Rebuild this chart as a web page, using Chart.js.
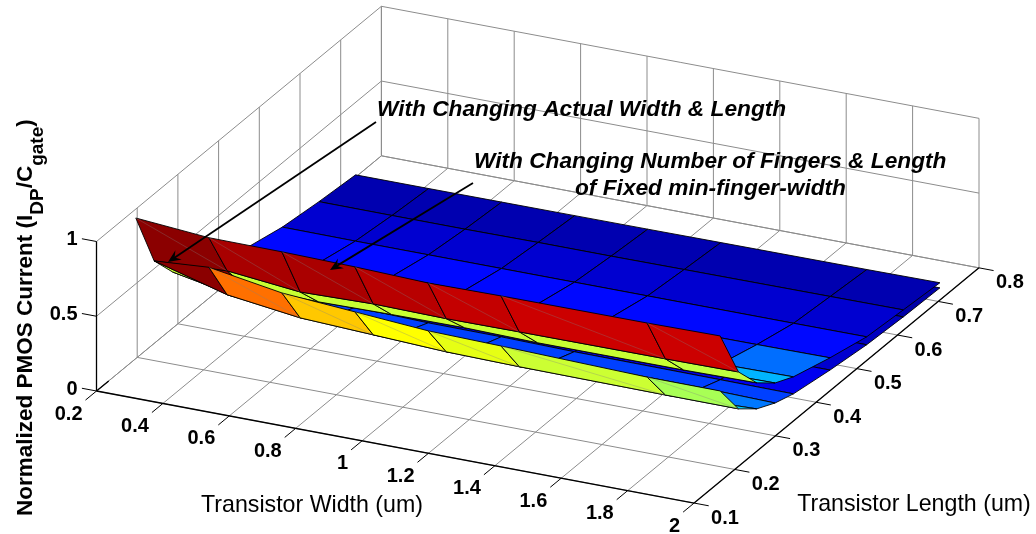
<!DOCTYPE html>
<html>
<head>
<meta charset="utf-8">
<style>html,body{margin:0;padding:0;background:#fff}canvas{display:block}</style>
<script src="https://cdn.jsdelivr.net/npm/chart.js@4"></script>
</head>
<body>
<canvas id="c" width="1036" height="534"></canvas>
<script>
// ---------- data ----------
const widthTicks = [0.2,0.4,0.6,0.8,1,1.2,1.4,1.6,1.8,2];
const widthTickLabels = ['0.2','0.4','0.6','0.8','1','1.2','1.4','1.6','1.8','2'];
const lengthTicks = [0.1,0.2,0.3,0.4,0.5,0.6,0.7,0.8];
const lengthTickLabels = ['0.1','0.2','0.3','0.4','0.5','0.6','0.7','0.8'];
const currentTicks = [0,0.5,1];
const currentTickLabels = ['0','0.5','1'];

const gridWidths = [0.24,0.46,0.68,0.90,1.12,1.34,1.78,2.0];
const gridLengths = [0.164,0.209,0.254,0.299,0.344,0.434,0.524,0.614,0.704];

// With changing actual width & length
const actualCurrent = [
 [1.03,.99,.987,.978,.962,.967,.969,.974],
 [.642,.667,.617,.629,.622,.625,.628,.632],
 [.49,.462,.45,.457,.46,.451,.452,.458],
 [.40,.375,.36,.35,.345,.345,.35,.356],
 [.33,.31,.30,.295,.29,.29,.29,.296],
 [.22,.215,.215,.215,.215,.215,.218,.221],
 [.16,.158,.158,.158,.158,.158,.158,.159],
 [.128,.127,.127,.13,.13,.132,.135,.137],
 [.105,.105,.106,.107,.108,.11,.113,.116]
];
// With changing number of fingers & length
const fingerCurrent = [
 [null,.792,.712,.677,.642,.632,.607,.606],
 [.642,.507,.444,.422,.40,.392,.386,.385],
 [.467,.372,.322,.297,.282,.272,.267,.284],
 [.322,.292,.262,.252,.245,.237,.232,.222],
 [.252,.227,.212,.199,.197,.189,.185,.182],
 [.162,.157,.152,.147,.142,.142,.139,.139],
 [.117,.112,.11,.108,.107,.106,.106,.106],
 [.092,.092,.092,.092,.09,.09,.09,.09],
 [.082,.082,.082,.082,.082,.082,.082,.082]
];

// facet colours, one per cell
const actualColors = [
 ['#8b0000','#a80000','#aa0000','#b80000','#c40000','#cc0000','#cc0000'],
 ['#8b0000','#c8ff33','#c8ff33','#c8ff33','#c8ff33','#c8ff33','#bfff40'],
 ['#0000d8','#0000d8','#0000d8','#0000d8','#0000d8','#0000d8','#00e0ff'],
 ['#0010ff','#0010ff','#0010ff','#0010ff','#0010ff','#0010ff','#00b4ff'],
 ['#0018ff','#0018ff','#0018ff','#0018ff','#0018ff','#0028ff','#006eff'],
 ['#0008ff','#0008ff','#0008ff','#0008ff','#0008ff','#0008ff','#0008ff'],
 ['#0000d0','#0000d0','#0000d0','#0000d0','#0000d0','#0000d0','#0000d0'],
 ['#0000b0','#0000b0','#0000b0','#0000b0','#0000b0','#0000b0','#0000b0']
];
const fingerColors = [
 ['#8b0000','#ff7000','#ffc800','#ffff00','#e6ff14','#ccff33','#a8ff55'],
 ['#c8ff33','#c8ff33','#c8ff33','#c8ff33','#c8ff33','#c8ff33','#00d0ff'],
 ['#0040ff','#0040ff','#0040ff','#0040ff','#0040ff','#0040ff','#0078ff'],
 ['#0040ff','#0040ff','#0040ff','#0040ff','#0040ff','#0040ff','#0040ff'],
 ['#0000e0','#0000e0','#0000e0','#0000e0','#0000e0','#0000e0','#0000f0'],
 ['#0000d0','#0000d0','#0000d0','#0000d0','#0000d0','#0000d0','#0000d0'],
 ['#0000c0','#0000c0','#0000c0','#0000c0','#0000c0','#0000c0','#0000c0'],
 ['#0000a8','#0000a8','#0000a8','#0000a8','#0000a8','#0000a8','#0000a8']
];

// ---------- orthographic view of the 3-D axes ----------
const view = {x0:96.5,y0:391,xW:66.4,yW:12.45,xL:40.7,yL:-33.6,yZ:-149.5};
function project(w,l,z){
  const u=(w-0.2)/0.2, v=(l-0.1)/0.1;
  return {x:view.x0+view.xW*u+view.xL*v, y:view.y0+view.yW*u+view.yL*v+view.yZ*z};
}
const GRID='#8c8c8c', AXIS='#000000';
const datasets=[];
function seg(a,b,color,width){
  datasets.push({data:[project(...a),project(...b)],borderColor:color,borderWidth:width,showLine:true,pointRadius:0,fill:false,tension:0,clip:false});
}
const wMin=0.2,wMax=2,lMin=0.1,lMax=0.8,zMin=0,zMax=1;
// floor
widthTicks.forEach(w=>seg([w,lMin,zMin],[w,lMax,zMin],GRID,1));
lengthTicks.forEach(l=>seg([wMin,l,zMin],[wMax,l,zMin],GRID,1));
// back wall and side wall
widthTicks.forEach(w=>seg([w,lMax,zMin],[w,lMax,zMax],GRID,1));
lengthTicks.forEach(l=>seg([wMin,l,zMin],[wMin,l,zMax],GRID,1));
currentTicks.forEach(z=>{seg([wMin,lMin,z],[wMin,lMax,z],GRID,1);seg([wMin,lMax,z],[wMax,lMax,z],GRID,1);});
// axes and ticks
seg([wMin,lMin,zMin],[wMax,lMin,zMin],AXIS,1.3);
seg([wMax,lMin,zMin],[wMax,lMax,zMin],AXIS,1.3);
seg([wMin,lMin,zMin],[wMin,lMin,zMax],AXIS,1.3);
seg([wMin,lMin,zMin],[wMin,lMin+0.03,zMin],AXIS,1.3);
widthTicks.forEach(w=>seg([w,lMin-0.027,zMin],[w,lMin,zMin],AXIS,1));
lengthTicks.forEach(l=>seg([wMax,l,zMin],[wMax+0.044,l,zMin],AXIS,1));
currentTicks.forEach(z=>seg([wMin-0.044,lMin,z],[wMin,lMin,z],AXIS,1));

function facet(surface,colors,r,c){
  const pts=[[r,c],[r,c+1],[r+1,c+1],[r+1,c]]
    .filter(([i,j])=>surface[i][j]!==null)
    .map(([i,j])=>project(gridWidths[j],gridLengths[i],surface[i][j]));
  pts.push(pts[0]);
  datasets.push({data:pts,borderColor:'#000',borderWidth:0.9,backgroundColor:colors[r][c],fill:'shape',showLine:true,pointRadius:0,tension:0,clip:false});
  if(r===0 && surface[r][c]!==null){
    datasets.push({data:[project(gridWidths[c],gridLengths[r],surface[r][c]),project(gridWidths[c+1],gridLengths[r+1],surface[r+1][c+1])],
      borderColor:'rgba(130,130,130,0.55)',borderWidth:0.6,showLine:true,pointRadius:0,fill:false,tension:0,clip:false});
  }
}
const nc=gridWidths.length-1;
function rows(surface,colors,from,to){
  for(let r=from;r>=to;r--)for(let c=0;c<nc;c++)facet(surface,colors,r,c);
}
rows(fingerCurrent,fingerColors,7,3);
rows(actualCurrent,actualColors,7,3);
rows(actualCurrent,actualColors,2,0);
rows(fingerCurrent,fingerColors,2,0);
datasets.reverse(); // Chart.js paints the first dataset last

// ---------- annotations ----------
const arrowStarts=[[376,122],[473,183]];
const arrowTips=[[168,262],[330,270]];
const notes=[
 {t:'With Changing Actual Width & Length',x:377,y:116},
 {t:'With Changing Number of Fingers & Length',x:474,y:168},
 {t:'of Fixed min-finger-width',x:575,y:195}
];

const textPlugin={id:'text3d',afterDatasetsDraw(chart){
  const ctx=chart.ctx,sx=chart.scales.x,sy=chart.scales.y;
  const px=(x)=>sx.getPixelForValue(x),py=(y)=>sy.getPixelForValue(y);
  ctx.save();
  // arrows
  arrowStarts.forEach((s,i)=>{
    const x0=px(s[0]),y0=py(s[1]),x1=px(arrowTips[i][0]),y1=py(arrowTips[i][1]);
    const ang=Math.atan2(y1-y0,x1-x0);
    ctx.strokeStyle='#000';ctx.fillStyle='#000';ctx.lineWidth=1.8;
    ctx.beginPath();ctx.moveTo(x0,y0);ctx.lineTo(x1-6*Math.cos(ang),y1-6*Math.sin(ang));ctx.stroke();
    ctx.beginPath();ctx.moveTo(x1,y1);
    const l=14,w=0.42;
    ctx.lineTo(x1-l*Math.cos(ang-w),y1-l*Math.sin(ang-w));
    ctx.lineTo(x1-8*Math.cos(ang),y1-8*Math.sin(ang));
    ctx.lineTo(x1-l*Math.cos(ang+w),y1-l*Math.sin(ang+w));
    ctx.closePath();ctx.fill();
  });
  ctx.fillStyle='#000';
  // tick labels
  ctx.font='bold 20px "Liberation Sans"';
  ctx.textBaseline='middle';
  ctx.textAlign='right';
  widthTicks.forEach((w,i)=>{const p=project(w,lMin,zMin);ctx.fillText(widthTickLabels[i],px(p.x-14),py(p.y+23));});
  ctx.textAlign='left';
  lengthTicks.forEach((l,i)=>{const p=project(wMax,l,zMin);ctx.fillText(lengthTickLabels[i],px(p.x+17),py(p.y+15));});
  ctx.textAlign='right';
  currentTicks.forEach((z,i)=>{const p=project(wMin,lMin,z);ctx.fillText(currentTickLabels[i],px(p.x-19),py(p.y-2));});
  // axis titles
  ctx.font='23.2px "Liberation Sans"';
  ctx.textAlign='center';
  ctx.fillText('Transistor Width (um)',px(312),py(506));
  ctx.fillText('Transistor Length (um)',px(914),py(505));
  // annotations
  ctx.font='italic bold 22.7px "Liberation Sans"';
  ctx.textBaseline='alphabetic';
  ctx.textAlign='left';
  notes.forEach(n=>ctx.fillText(n.t,px(n.x),py(n.y)));
  // rotated y title with subscripts
  ctx.translate(px(32),py(516));
  ctx.rotate(-Math.PI/2);
  let pos=0;
  [['Normalized PMOS Current (I',0],['DP',1],['/C',0],['gate',1],[')',0]].forEach(([t,sub])=>{
    ctx.font=sub?'bold 19px "Liberation Sans"':'bold 22.5px "Liberation Sans"';
    ctx.fillText(t,pos,sub?11:0);
    pos+=ctx.measureText(t).width;
  });
  ctx.restore();
}};

new Chart(document.getElementById('c'),{
  type:'scatter',
  data:{datasets},
  options:{
    responsive:false,animation:false,devicePixelRatio:1,
    layout:{padding:0},
    plugins:{legend:{display:false},tooltip:{enabled:false},title:{display:false}},
    scales:{
      x:{type:'linear',min:0,max:1036,display:false},
      y:{type:'linear',min:0,max:534,reverse:true,display:false}
    }
  },
  plugins:[textPlugin]
});
</script>
</body>
</html>
